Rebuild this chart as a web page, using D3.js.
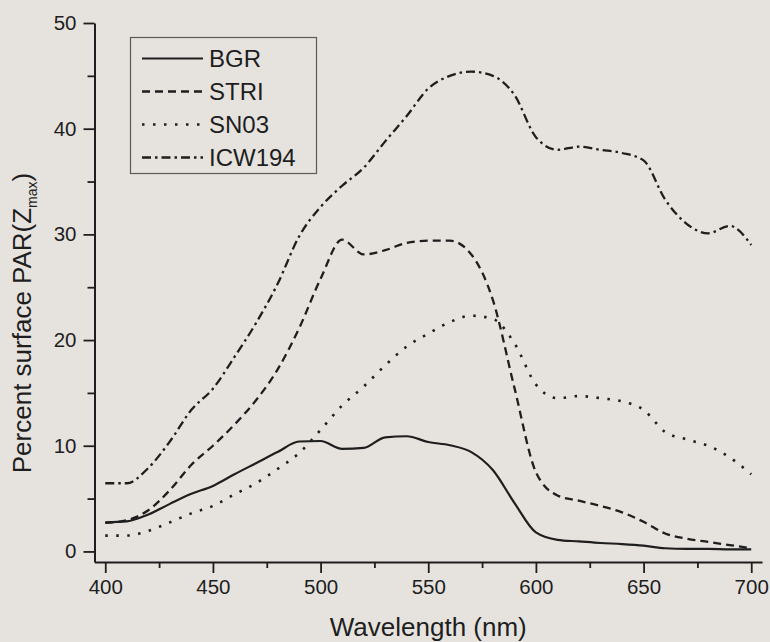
<!DOCTYPE html>
<html>
<head>
<meta charset="utf-8">
<script src="https://cdn.jsdelivr.net/npm/d3@7"></script>
<style>
  html, body { margin: 0; padding: 0; background: #e6e3de; }
  svg { display: block; }
  text { font-family: "Liberation Sans", Arial, Helvetica, sans-serif; fill: #1e1e1e; }
</style>
</head>
<body>
<svg id="chart" width="770" height="642"></svg>
<script>
// ---- data ----
const wavelengths = [400,410,420,430,440,450,460,470,480,490,500,510,520,530,540,550,560,570,580,590,600,610,620,630,640,650,660,670,680,690,700];
const BGR    = [2.75,2.85,3.5,4.5,5.45,6.2,7.3,8.35,9.4,10.4,10.45,9.7,9.8,10.8,10.9,10.35,10.05,9.4,7.7,4.6,1.8,1.1,0.95,0.8,0.7,0.55,0.3,0.25,0.25,0.2,0.2];
const STRI   = [2.7,2.95,3.9,5.8,8.2,10.0,12.0,14.3,17.2,21.1,25.8,29.5,28.1,28.5,29.2,29.4,29.4,28.1,23.8,15.5,7.5,5.3,4.8,4.3,3.7,2.8,1.7,1.2,0.9,0.6,0.3];
const SN03   = [1.5,1.5,1.95,2.75,3.6,4.3,5.4,6.45,7.8,9.3,11.5,13.8,15.6,17.6,19.4,20.6,21.7,22.3,22.0,19.7,15.8,14.5,14.7,14.5,14.2,13.4,11.3,10.6,10.0,8.9,7.3];
const ICW194 = [6.45,6.45,7.9,10.4,13.4,15.4,18.4,21.6,25.3,29.8,32.6,34.6,36.3,38.8,41.2,43.8,45.0,45.4,45.0,43.2,39.2,38.0,38.3,38.0,37.7,37.0,33.3,31.0,30.1,30.8,29.0];
const seriesNames = ["BGR","STRI","SN03","ICW194"];
const xMajorTicks = [400,450,500,550,600,650,700];
const xMinorTicks = [425,475,525,575,625,675];
const yMajorTicks = [0,10,20,30,40,50];
const yMinorTicks = [5,15,25,35,45];
const xTitle = "Wavelength (nm)";
const yTitleMain = "Percent surface PAR(Z";
const yTitleSub = "max";
const yTitleEnd = ")";

// ---- styles ----
const dashes = { BGR: null, STRI: "8,5", SN03: "2.5,8.5", ICW194: "9,4,2.5,4" };
const widths = { BGR: 2.2, STRI: 2.3, SN03: 2.6, ICW194: 2.3 };
const ink = "#1e1e1e";

const svg = d3.select("#chart");
const x = d3.scaleLinear().domain([395, 705]).range([94.5, 762]);
const y = d3.scaleLinear().domain([-1, 50]).range([562, 23]);

// ---- axes ----
const xAxis = svg.append("g").attr("transform", "translate(0,562)")
  .call(d3.axisBottom(x).tickValues(xMajorTicks).tickSize(11).tickSizeOuter(0).tickPadding(6).tickFormat(d3.format("d")));
svg.append("g").attr("transform", "translate(0,562)")
  .call(d3.axisBottom(x).tickValues(xMinorTicks).tickSize(6).tickSizeOuter(0).tickFormat(""))
  .select(".domain").remove();
const yAxis = svg.append("g").attr("transform", "translate(94.5,0)")
  .call(d3.axisLeft(y).tickValues(yMajorTicks).tickSize(11).tickSizeOuter(0).tickPadding(7).tickFormat(d3.format("d")));
svg.append("g").attr("transform", "translate(94.5,0)")
  .call(d3.axisLeft(y).tickValues(yMinorTicks).tickSize(7).tickSizeOuter(0).tickFormat(""))
  .select(".domain").remove();

svg.selectAll(".domain").attr("stroke", ink).attr("stroke-width", 2);
svg.selectAll(".tick line").attr("stroke", ink).attr("stroke-width", 1.8);
svg.selectAll(".tick text").attr("fill", "#262626").style("font-size", "20.5px")
  .style("font-family", '"Liberation Sans", Arial, sans-serif');
xAxis.selectAll(".tick text").attr("dy", "0.72em");

// axis titles
svg.append("text").attr("x", x(550)).attr("y", 636).attr("text-anchor", "middle")
  .style("font-size", "26px").text(xTitle);
const yt = svg.append("text").attr("transform", "translate(31,323) rotate(-90)")
  .attr("text-anchor", "middle").style("font-size", "26px");
yt.append("tspan").text(yTitleMain);
yt.append("tspan").attr("dy", 6).style("font-size", "14px").text(yTitleSub);
yt.append("tspan").attr("dy", -6).text(yTitleEnd);

// ---- lines ----
const dataMap = { BGR, STRI, SN03, ICW194 };
const line = d3.line().x(d => x(d[0])).y(d => y(d[1])).curve(d3.curveMonotoneX);
seriesNames.forEach(name => {
  const pts = wavelengths.map((w, i) => [w, dataMap[name][i]]);
  svg.append("path").datum(pts)
    .attr("d", line)
    .attr("fill", "none")
    .attr("stroke", ink)
    .attr("stroke-width", widths[name])
    .attr("stroke-dasharray", dashes[name])
    .attr("stroke-linejoin", "round");
});

// ---- legend ----
const lg = svg.append("g");
lg.append("rect").attr("x", 130.5).attr("y", 37.5).attr("width", 186).attr("height", 136)
  .attr("fill", "none").attr("stroke", "#5a5a5a").attr("stroke-width", 1.2);
seriesNames.forEach((name, i) => {
  const cy = 58.5 + i * 33;
  lg.append("line").attr("x1", 142).attr("x2", 203).attr("y1", cy).attr("y2", cy)
    .attr("stroke", ink).attr("stroke-width", widths[name]).attr("stroke-dasharray", dashes[name]);
  lg.append("text").attr("x", 209).attr("y", cy + 8.5).style("font-size", "24px").text(name);
});
</script>
</body>
</html>
